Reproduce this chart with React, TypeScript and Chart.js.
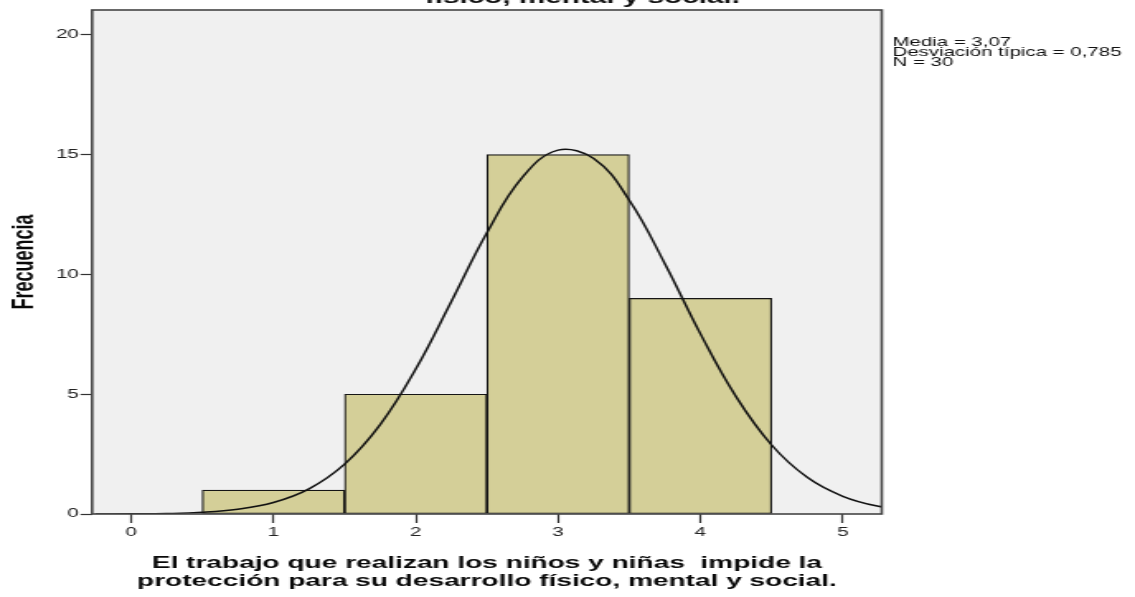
import React, { useEffect, useRef } from "react";
import { Chart, registerables } from "chart.js";

Chart.register(...registerables);

// ---- data ----
const binCenters = [1, 2, 3, 4];
const frequencies = [1, 5, 15, 9];

const curveX = [-0.25, 0, 0.25, 0.5, 0.75, 1, 1.25, 1.5, 1.75, 2, 2.25, 2.5, 2.75, 3, 3.25, 3.5, 3.75, 4, 4.25, 4.5, 4.75, 5, 5.25, 5.5];
const curveY = [0.002, 0.007, 0.02, 0.07, 0.2, 0.48, 1.05, 2.08, 3.73, 6.05, 8.87, 11.74, 14.06, 15.19, 14.84, 13.1, 10.45, 7.52, 4.9, 2.88, 1.53, 0.74, 0.32, 0.13];

const xTickValues = [0, 1, 2, 3, 4, 5];
const yTickValues = [0, 5, 10, 15, 20];

const xTitleLines = [
  "El trabajo que realizan los niños y niñas  impide la",
  "protección para su desarrollo físico, mental y social.",
];
const yTitle = "Frecuencia";
const chartTitleLines = [
  "El trabajo que realizan los niños y niñas impide la protección para su desarrollo",
  "físico, mental y social.",
];
const statsLines = ["Media = 3,07", "Desviación típica = 0,785", "N = 30"];

// ---- layout (internal canvas is drawn narrower, then stretched horizontally) ----
const PAGE_W = 1135;
const PAGE_H = 597;
const INNER_W = 688;
const FONT = "'Liberation Sans', Arial, Helvetica, sans-serif";

const decorPlugin = {
  id: "decor",
  beforeDraw(chart: any) {
    const { ctx, chartArea: a } = chart;
    ctx.save();
    ctx.fillStyle = "#ffffff";
    ctx.fillRect(0, 0, chart.width, chart.height);
    ctx.fillStyle = "#f0f0f0";
    ctx.fillRect(a.left, a.top, a.right - a.left, a.bottom - a.top);
    ctx.restore();
  },
  afterDraw(chart: any) {
    const { ctx, chartArea: a } = chart;
    ctx.save();
    // frame
    ctx.strokeStyle = "#454545";
    ctx.lineWidth = 1.6;
    ctx.strokeRect(a.left, a.top, a.right - a.left, a.bottom - a.top);

    // statistics text
    ctx.fillStyle = "#111";
    ctx.font = `12.4px ${FONT}`;
    ctx.textAlign = "left";
    ctx.textBaseline = "middle";
    statsLines.forEach((t, i) => ctx.fillText(t, 541, 42.5 + i * 10));

    // chart title (mostly cut off at the top)
    ctx.font = `bold 18px ${FONT}`;
    ctx.textAlign = "center";
    ctx.textBaseline = "alphabetic";
    ctx.fillStyle = "#111";
    const n = chartTitleLines.length;
    chartTitleLines.forEach((t, i) => ctx.fillText(t, 353, 3 - (n - 1 - i) * 20));
    ctx.restore();
  },
};

export default function App() {
  const ref = useRef<HTMLCanvasElement | null>(null);

  useEffect(() => {
    if (!ref.current) return;
    const chart = new Chart(ref.current, {
      data: {
        datasets: [
          {
            type: "line",
            data: curveX.map((x, i) => ({ x, y: curveY[i] })),
            borderColor: "#111111",
            borderWidth: 1.5,
            pointRadius: 0,
            fill: false,
            tension: 0.4,
            order: 0,
          } as any,
          {
            type: "bar",
            data: binCenters.map((x, i) => ({ x, y: frequencies[i] })),
            backgroundColor: "#d4cf98",
            borderColor: "#151515",
            borderWidth: 1.2,
            borderSkipped: false,
            barPercentage: 1,
            categoryPercentage: 1,
            order: 1,
          } as any,
        ],
      },
      options: {
        responsive: false,
        animation: false,
        devicePixelRatio: 1,
        layout: { padding: { left: 0, top: 10, right: INNER_W - 534.5, bottom: 0 } },
        plugins: {
          legend: { display: false },
          tooltip: { enabled: false },
          title: { display: false },
        },
        scales: {
          x: {
            type: "linear",
            offset: false,
            min: -0.274,
            max: 5.274,
            afterBuildTicks: (s: any) => {
              s.ticks = xTickValues.map((v) => ({ value: v }));
            },
            afterFit: (s: any) => {
              s.height = 83;
            },
            grid: { display: true, offset: false, drawOnChartArea: false, drawTicks: true, tickLength: 9, tickColor: "#333", tickWidth: 1.2 },
            border: { display: false },
            ticks: { padding: 2, color: "#222", font: { family: FONT, size: 12.5 }, maxRotation: 0, autoSkip: false },
            title: {
              display: true,
              text: xTitleLines,
              color: "#0a0a0a",
              font: { family: FONT, size: 17, weight: "bold", lineHeight: "18px" },
              padding: { top: 0, bottom: 7 },
            },
          },
          y: {
            type: "linear",
            min: 0,
            max: 21.04,
            afterBuildTicks: (s: any) => {
              s.ticks = yTickValues.map((v) => ({ value: v }));
            },
            afterFit: (s: any) => {
              s.width = 55.8;
            },
            grid: { display: true, drawOnChartArea: false, drawTicks: true, tickLength: 7, tickColor: "#333", tickWidth: 1.2 },
            border: { display: false },
            ticks: { padding: 1, color: "#222", font: { family: FONT, size: 12.5 } },
            title: {
              display: true,
              text: yTitle,
              color: "#0a0a0a",
              font: { family: FONT, size: 18, weight: "bold" },
              padding: { top: 4, bottom: 0 },
            },
          },
        },
      } as any,
      plugins: [decorPlugin],
    });
    return () => chart.destroy();
  }, []);

  return (
    <div style={{ position: "fixed", left: 0, top: 0, width: PAGE_W, height: PAGE_H, background: "#fff", overflow: "hidden" }}>
      <canvas
        ref={ref}
        width={INNER_W}
        height={PAGE_H}
        style={{ display: "block", width: `${PAGE_W}px`, height: `${PAGE_H}px` }}
      />
    </div>
  );
}
